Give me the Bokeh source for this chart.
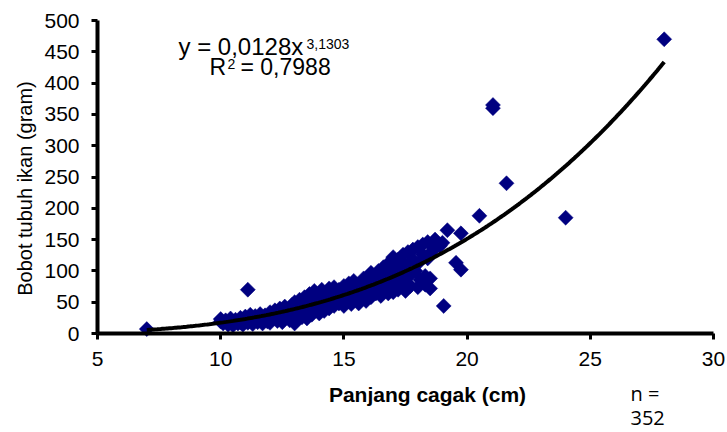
import numpy as np
from bokeh.plotting import figure
from bokeh.models import Range1d, FixedTicker, Label
from bokeh.embed import file_html
from bokeh.resources import INLINE

# ---- data ----
length_cm = [
    7.0,
    10.0, 10.0, 10.1, 10.2, 10.3, 10.4, 10.5, 10.5, 10.6, 10.7,
    10.8, 10.8, 10.9, 11.0, 11.0, 11.1, 11.1, 11.2, 11.2, 11.3,
    11.4, 11.4, 11.5, 11.6, 11.6, 11.7, 11.8, 11.8, 11.9, 12.0,
    12.0, 12.0, 12.1, 12.2, 12.2, 12.3, 12.4, 12.4, 12.5, 12.5,
    12.6, 12.6, 12.7, 12.8, 12.8, 12.9, 13.0, 13.0, 13.0, 13.1,
    13.1, 13.2, 13.2, 13.3, 13.3, 13.4, 13.4, 13.5, 13.5, 13.6,
    13.6, 13.7, 13.7, 13.8, 13.8, 13.9, 14.0, 14.0, 14.0, 14.1,
    14.1, 14.2, 14.2, 14.3, 14.3, 14.4, 14.4, 14.5, 14.5, 14.6,
    14.6, 14.7, 14.8, 14.8, 14.9, 15.0, 15.0, 15.0, 15.1, 15.1,
    15.2, 15.2, 15.3, 15.4, 15.4, 15.5, 15.5, 15.6, 15.6, 15.7,
    15.8, 15.8, 15.9, 16.0, 16.0, 16.0, 16.1, 16.1, 16.2, 16.2,
    16.3, 16.4, 16.4, 16.5, 16.5, 16.6, 16.6, 16.7, 16.8, 16.8,
    16.9, 17.0, 17.0, 17.0, 17.1, 17.1, 17.2, 17.2, 17.3, 17.4,
    17.4, 17.5, 17.5, 17.6, 17.6, 17.7, 17.8, 17.8, 17.9, 18.0,
    18.0, 18.0, 18.1, 18.2, 18.2, 18.3, 18.3, 18.4, 18.4, 18.5,
    18.5, 18.6, 18.7, 18.9, 19.0, 19.05, 19.2, 19.55, 19.75, 19.75,
    20.5, 21.05, 21.05, 21.6, 24.0, 28.0,
]
weight_g = [
    7,
    19, 23, 16, 21, 14, 24, 13, 19, 22, 16,
    25, 18, 14, 21, 27, 70, 17, 24, 30, 15,
    22, 28, 18, 25, 31, 16, 22, 29, 19, 26,
    34, 17, 23, 30, 37, 20, 27, 40, 18, 33,
    24, 43, 30, 21, 38, 46, 16, 28, 50, 35,
    22, 42, 54, 26, 47, 33, 58, 40, 24, 52,
    63, 30, 45, 68, 38, 56, 32, 48, 64, 40,
    70, 55, 36, 62, 46, 72, 40, 52, 66, 44,
    74, 58, 48, 70, 62, 44, 56, 76, 50, 68,
    80, 58, 47, 72, 84, 54, 66, 78, 48, 60,
    88, 70, 52, 62, 80, 92, 58, 97, 72, 86,
    64, 100, 78, 60, 92, 70, 106, 84, 64, 112,
    96, 122, 76, 66, 104, 88, 118, 70, 96, 126,
    80, 110, 68, 130, 90, 76, 118, 134, 100, 74,
    138, 112, 86, 126, 142, 92, 78, 146, 120, 72,
    88, 132, 150, 140, 145, 44, 165, 113, 160, 102,
    188, 365, 360, 240, 185, 470,
]

x_ticks = [5, 10, 15, 20, 25, 30]
y_ticks = [0, 50, 100, 150, 200, 250, 300, 350, 400, 450, 500]
x_bounds = (5, 30)
y_bounds = (0, 500)

fit_a = 0.0128          # power trendline  y = a * x^b
fit_b = 3.1303
fit_x = [7.0, 28.0]

eq_main = "y = 0,0128x"
eq_exp = "3,1303"
r2_main = "R"
r2_sup = "2"
r2_rest = "= 0,7988"
x_title = "Panjang cagak (cm)"
y_title = "Bobot tubuh ikan (gram)"
n_lines = ["n =", "352"]

FONT = "Liberation Sans"
NAVY = "#000080"
W, H = 727, 432

# pixel calibration of the axes box (layout only)
X0_PX, X1_PX = 97, 713      # x = 5 .. 30
Y0_PX, Y1_PX = 333, 20      # y = 0 .. 500
ppx = (X1_PX - X0_PX) / (x_bounds[1] - x_bounds[0])
ppy = (Y0_PX - Y1_PX) / (y_bounds[1] - y_bounds[0])

# the frame covers the whole canvas so that texts outside the axes box are not clipped
x_range = Range1d(x_bounds[0] - X0_PX / ppx, x_bounds[0] + (W - X0_PX) / ppx)
y_range = Range1d(y_bounds[0] - (H - Y0_PX) / ppy, y_bounds[0] + Y0_PX / ppy)

p = figure(width=W, height=H, output_backend="svg", toolbar_location=None,
           x_range=x_range, y_range=y_range,
           min_border=0,
           background_fill_color="white", border_fill_color="white")
p.outline_line_color = None
p.grid.visible = False

p.xaxis.fixed_location = 0
p.yaxis.fixed_location = 5
p.xaxis.bounds = x_bounds
p.yaxis.bounds = y_bounds

for ax in (p.xaxis[0], p.yaxis[0]):
    ax.axis_line_width = 4
    ax.axis_line_color = "black"
    ax.major_tick_line_width = 3
    ax.major_tick_line_color = "black"
    ax.major_tick_out = 6
    ax.major_tick_in = 0
    ax.minor_tick_line_color = None
    ax.major_label_text_font = FONT
    ax.major_label_text_font_size = "21px"
    ax.major_label_text_color = "black"
    ax.major_label_standoff = 12

p.xaxis.ticker = FixedTicker(ticks=x_ticks)
p.yaxis.ticker = FixedTicker(ticks=y_ticks)

p.scatter(length_cm, weight_g, marker="square", size=10.6, angle=np.pi / 4,
          fill_color=NAVY, line_color=NAVY, line_width=0.5)

fx = np.linspace(fit_x[0], fit_x[1], 300)
fy = fit_a * fx ** fit_b
p.line(fx, fy, line_width=4, line_color="black")


def lab(px, py, text, size="23px", align="left", baseline="alphabetic",
        style="normal", font=FONT, angle=0):
    # px, py: pixel position from top-left of the canvas
    p.add_layout(Label(x=px, y=H - py, x_units="screen", y_units="screen",
                       text=text, text_font=font, text_font_size=size,
                       text_align=align, text_baseline=baseline,
                       text_font_style=style, text_color="black", angle=angle))


lab(178, 46, eq_main, size="24px")
lab(306, 43, eq_exp, size="14px")
lab(209, 66, r2_main, size="23px")
lab(227, 63, r2_sup, size="14px")
lab(240, 66, r2_rest, size="23px")

lab(427, 394, x_title, size="21px", align="center", style="bold")
lab(24, 188, y_title, size="20px", align="center", baseline="middle",
    angle=np.pi / 2)
lab(630, 393, n_lines[0], size="20px", font="Open Sans")
lab(630, 417, n_lines[1], size="20px", font="Open Sans")

open("out.html", "w").write(file_html(p, INLINE))
